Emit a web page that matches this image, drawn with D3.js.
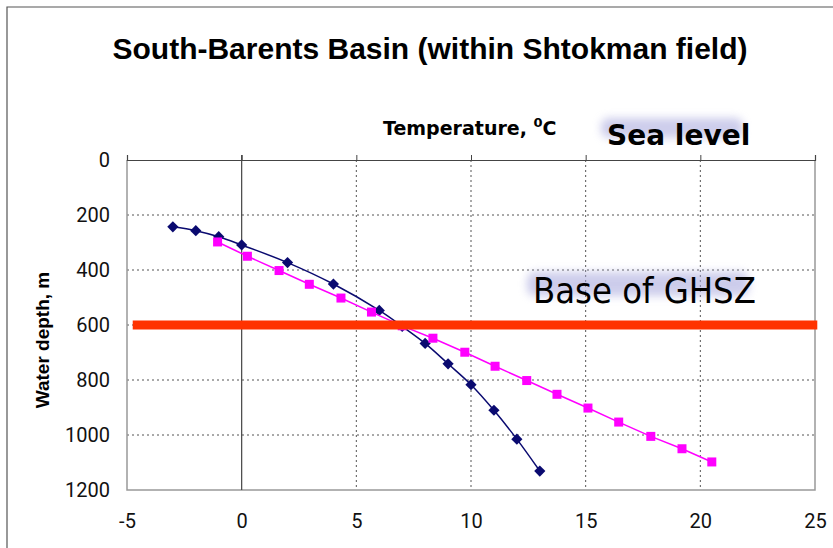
<!DOCTYPE html>
<html>
<head>
<meta charset="utf-8">
<script src="https://cdn.jsdelivr.net/npm/d3@7"></script>
<style>
  body { margin: 0; background: #fff; }
  svg { display: block; }
</style>
</head>
<body>
<div id="chart"></div>
<script>
/* data */
var xTicks = [-5, 0, 5, 10, 15, 20, 25];
var yTicks = [0, 200, 400, 600, 800, 1000, 1200];

var blueTemp  = [-3, -2, -1, 0, 2, 4, 6, 7, 8, 9, 10, 11, 12, 13];
var blueDepth = [243, 257, 279, 309, 373, 451, 547, 605, 667, 741, 817, 910, 1015, 1131];

var pinkTemp  = [-1.05, 0.25, 1.63, 2.95, 4.33, 5.66, 7.0, 8.34, 9.73, 11.05, 12.43, 13.75, 15.1, 16.44, 17.84, 19.2, 20.5];
var pinkDepth = [298, 350, 402, 452, 502, 553, 603, 648, 699, 750, 802, 852, 902, 953, 1005, 1050, 1098];

var ghszDepth = 600;

/* svg size */
var width = 833;
var height = 548;

var svg = d3.select("#chart").append("svg")
  .attr("width", width)
  .attr("height", height);

var defs = svg.append("defs");
defs.append("filter").attr("id", "glow")
  .attr("x", "-20%").attr("y", "-80%").attr("width", "140%").attr("height", "260%")
  .append("feGaussianBlur").attr("stdDeviation", 4.5);

var x = d3.scaleLinear().domain([-5, 25]).range([127, 815]);
var y = d3.scaleLinear().domain([0, 1200]).range([160, 490]);

var fmt = function(d){ return String(d); };   // plain hyphen minus, no thousands comma

/* frame */
svg.append("path")
  .attr("d", "M7,548 V7 H833")
  .attr("fill", "none").attr("stroke", "#555").attr("stroke-width", 1.2);

/* title */
svg.append("text")
  .attr("x", 430).attr("y", 59)
  .attr("text-anchor", "middle")
  .style("font", "bold 30px 'Liberation Sans', Arial, sans-serif")
  .text("South-Barents Basin (within Shtokman field)");

/* grid */
var grid = svg.append("g");
grid.selectAll(".hg").data(yTicks.filter(function(d){ return d > 0 && d < 1200; }))
  .enter().append("line")
  .attr("x1", x(-5)).attr("x2", x(25))
  .attr("y1", function(d){ return y(d); }).attr("y2", function(d){ return y(d); })
  .attr("stroke", "#555").attr("stroke-width", 1).attr("stroke-dasharray", "2,3");
grid.selectAll(".vg").data(xTicks.filter(function(d){ return d > 0 && d < 25; }))
  .enter().append("line")
  .attr("y1", y(0)).attr("y2", y(1200))
  .attr("x1", function(d){ return x(d); }).attr("x2", function(d){ return x(d); })
  .attr("stroke", "#555").attr("stroke-width", 1).attr("stroke-dasharray", "2,3");

/* plot border */
svg.append("path")
  .attr("d", "M" + x(-5) + "," + y(0) + " V" + y(1200) + " H" + x(25) + " V" + y(0))
  .attr("fill", "none").attr("stroke", "#999").attr("stroke-width", 1.5);

/* x = 0 line and top axis */
svg.append("line")
  .attr("x1", x(0)).attr("x2", x(0)).attr("y1", y(0) - 5).attr("y2", y(1200))
  .attr("stroke", "#444").attr("stroke-width", 1.2);

var topAxis = svg.append("g")
  .attr("transform", "translate(0," + y(0) + ")")
  .call(d3.axisTop(x).tickValues(xTicks).tickSize(5).tickFormat(""));
topAxis.select(".domain").attr("stroke", "#444").attr("stroke-width", 1.2);
topAxis.selectAll(".tick line").attr("stroke", "#444");

/* y tick labels */
var yAxis = svg.append("g")
  .attr("transform", "translate(" + x(-5) + ",0)")
  .call(d3.axisLeft(y).tickValues(yTicks).tickSize(0).tickPadding(17).tickFormat(fmt));
yAxis.select(".domain").remove();
yAxis.selectAll("text")
  .style("font", "20px Roboto, 'Liberation Sans', sans-serif").attr("fill", "#111");

/* x tick labels at the bottom */
var xAxis = svg.append("g")
  .attr("transform", "translate(0," + y(1200) + ")")
  .call(d3.axisBottom(x).tickValues(xTicks).tickSize(0).tickPadding(24).tickFormat(fmt));
xAxis.select(".domain").remove();
xAxis.selectAll("text")
  .style("font", "20px Roboto, 'Liberation Sans', sans-serif").attr("fill", "#111");

/* axis titles */
var tempLabel = svg.append("text")
  .attr("x", 383).attr("y", 135)
  .style("font", "bold 19px 'DejaVu Sans', sans-serif");
tempLabel.append("tspan").text("Temperature, ");
tempLabel.append("tspan").attr("dy", -8).style("font-size", "13px").text("0");
tempLabel.append("tspan").attr("dy", 8).text("C");

svg.append("text")
  .attr("transform", "translate(49,340) rotate(-90)")
  .attr("text-anchor", "middle")
  .style("font", "bold 19px 'Liberation Sans', Arial, sans-serif")
  .text("Water depth, m");

/* series */
var blue = blueTemp.map(function(t, i){ return [t, blueDepth[i]]; });
var pink = pinkTemp.map(function(t, i){ return [t, pinkDepth[i]]; });

var line = d3.line()
  .x(function(d){ return x(d[0]); })
  .y(function(d){ return y(d[1]); });

svg.append("path")
  .attr("d", line.curve(d3.curveCatmullRom)(blue))
  .attr("fill", "none").attr("stroke", "#0a0a70").attr("stroke-width", 1.5);

svg.selectAll(".dia").data(blue).enter().append("path")
  .attr("d", d3.symbol(d3.symbolDiamond2, 80))
  .attr("transform", function(d){ return "translate(" + x(d[0]) + "," + y(d[1]) + ")"; })
  .attr("fill", "#0a0a70");

svg.append("path")
  .attr("d", line.curve(d3.curveLinear)(pink))
  .attr("fill", "none").attr("stroke", "#ff00ff").attr("stroke-width", 1.5);

svg.selectAll(".sq").data(pink).enter().append("rect")
  .attr("x", function(d){ return x(d[0]) - 4.5; })
  .attr("y", function(d){ return y(d[1]) - 4.5; })
  .attr("width", 9).attr("height", 9)
  .attr("fill", "#ff00ff");

/* base of GHSZ line */
svg.append("line")
  .attr("x1", x(-4.75)).attr("x2", x(25.1))
  .attr("y1", y(ghszDepth)).attr("y2", y(ghszDepth))
  .attr("stroke", "#ff3300").attr("stroke-width", 9);

/* labels with a soft lavender glow behind the top of the letters */
function glowText(tx, ty, w, h, txt, font) {
  svg.append("rect")
    .attr("x", tx - 6).attr("y", ty - h - 7)
    .attr("width", w).attr("height", h)
    .attr("rx", 8)
    .attr("filter", "url(#glow)")
    .attr("fill", "#a4a4dc").attr("opacity", 0.55);
  svg.append("text")
    .attr("x", tx).attr("y", ty)
    .attr("fill", "#000")
    .style("font", font).text(txt);
}
glowText(607, 145, 142, 20, "Sea level", "bold 28px 'DejaVu Sans', sans-serif");
glowText(533, 303, 222, 24, "Base of GHSZ", "36px 'DejaVu Sans Condensed', 'DejaVu Sans', sans-serif");
</script>
</body>
</html>
